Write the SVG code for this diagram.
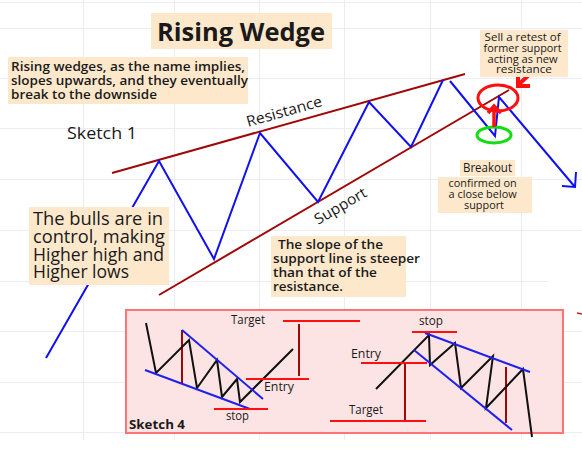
<svg xmlns="http://www.w3.org/2000/svg" width="582" height="457" viewBox="0 0 582 457">
<defs>
<style>
.grid{stroke:#ececf7;stroke-width:1;fill:none}
.box{fill:#fde8cc}
.t{font-family:"Open Sans","DejaVu Sans",sans-serif;fill:#1a1a1a}
.wave{stroke:#1010f0;stroke-width:2;fill:none;stroke-linejoin:miter}
.trend{stroke:#a00808;stroke-width:2;fill:none}
.blk{stroke:#111;stroke-width:2;fill:none}
.blue{stroke:#2020ee;stroke-width:2;fill:none}
.red{stroke:#ff1010;stroke-width:2;fill:none}
.dred{stroke:#a00808;stroke-width:2;fill:none}
</style>
</defs>
<rect width="582" height="457" fill="#ffffff"/>
<g id="grid" class="grid">
<path d="M0 2.5H582M0 28.5H582M0 78.5H582M0 128.5H582M0 179.5H582M0 230.5H582M0 281.5H548M0 331.5H582M0 382.5H582M0 432.5H582"/>
<path d="M83.5 0V440M174.5 0V440M259.5 0V440M344.5 0V440M430.5 0V440M521.5 0V440"/>
</g>

<g id="title">
<rect class="box" x="151" y="13" width="181" height="36"/>
<text class="t" x="157" y="41" font-size="25" font-weight="bold" textLength="168" lengthAdjust="spacingAndGlyphs">Rising Wedge</text>
</g>

<g id="intro">
<rect class="box" x="8" y="57" width="240" height="47"/>
<text class="t" font-size="12.5" font-weight="600">
<tspan x="11" y="71" textLength="234" lengthAdjust="spacingAndGlyphs">Rising wedges, as the name implies,</tspan>
<tspan x="11" y="85" textLength="237" lengthAdjust="spacingAndGlyphs">slopes upwards, and they eventually</tspan>
<tspan x="11" y="98.5" textLength="146" lengthAdjust="spacingAndGlyphs">break to the downside</tspan>
</text>
</g>

<g id="sketch1-label">
<text class="t" x="67" y="139" font-size="17" textLength="70" lengthAdjust="spacingAndGlyphs">Sketch 1</text>
</g>

<g id="connectors">
<line class="trend" x1="112" y1="173" x2="465" y2="74"/>
<line class="trend" x1="159" y1="295" x2="509" y2="90"/>
<polyline class="wave" points="46,358 159,161 214,259 260,133 318,202 369,102 411,147 443,80"/>
<polyline class="wave" points="450,81 495,136 499,97 575,187"/>
<polyline class="wave" points="576,172 575,187 562,186"/>
<ellipse cx="498" cy="98" rx="20" ry="13" fill="none" stroke="#ff1010" stroke-width="3"/>
<ellipse cx="494" cy="135" rx="17" ry="8" fill="none" stroke="#11dd11" stroke-width="3"/>
<line x1="494" y1="127" x2="494" y2="106" stroke="#ff1010" stroke-width="3.5"/>
<polyline points="488,113 494,106 501,113" fill="none" stroke="#ff1010" stroke-width="3.5"/>
<line x1="530" y1="74" x2="518" y2="85" stroke="#ff1010" stroke-width="4"/>
<polyline points="518,75 518,86 530,86" fill="none" stroke="#ff1010" stroke-width="4"/>
</g>

<g id="resistance-label">
<text class="t" font-size="15" transform="translate(248,127) rotate(-15.7)" textLength="78" lengthAdjust="spacingAndGlyphs">Resistance</text>
</g>
<g id="support-label">
<text class="t" font-size="15" transform="translate(318,225) rotate(-30.4)" textLength="58" lengthAdjust="spacingAndGlyphs">Support</text>
</g>

<g id="sell-note">
<rect class="box" x="480" y="30" width="88" height="47"/>
<text class="t" font-size="10.5" text-anchor="middle">
<tspan x="524" y="41" textLength="76" lengthAdjust="spacingAndGlyphs">Sell a retest of</tspan>
<tspan x="524" y="52" textLength="78" lengthAdjust="spacingAndGlyphs">former support</tspan>
<tspan x="524" y="63" textLength="70" lengthAdjust="spacingAndGlyphs">acting as new</tspan>
<tspan x="524" y="73" textLength="56" lengthAdjust="spacingAndGlyphs">resistance</tspan>
</text>
</g>

<g id="breakout">
<rect class="box" x="460" y="160" width="55" height="16"/>
<text class="t" x="487.5" y="172" font-size="12.5" text-anchor="middle" textLength="49" lengthAdjust="spacingAndGlyphs">Breakout</text>
</g>

<g id="confirmed">
<rect class="box" x="438" y="177" width="94" height="36"/>
<text class="t" font-size="10.5" text-anchor="middle">
<tspan x="484" y="187" textLength="68" lengthAdjust="spacingAndGlyphs">confirmed on</tspan>
<tspan x="484" y="198" textLength="68" lengthAdjust="spacingAndGlyphs">a close below</tspan>
<tspan x="484" y="209" textLength="40" lengthAdjust="spacingAndGlyphs">support</tspan>
</text>
</g>

<g id="bulls">
<rect class="box" x="29" y="207" width="140" height="78"/>
<text class="t" font-size="17.5">
<tspan x="33" y="225" textLength="130" lengthAdjust="spacingAndGlyphs">The bulls are in</tspan>
<tspan x="33" y="243" textLength="132" lengthAdjust="spacingAndGlyphs">control, making</tspan>
<tspan x="33" y="261" textLength="131" lengthAdjust="spacingAndGlyphs">Higher high and</tspan>
<tspan x="33" y="278" textLength="96" lengthAdjust="spacingAndGlyphs">Higher lows</tspan>
</text>
</g>

<g id="slope">
<rect class="box" x="271" y="236" width="135" height="61"/>
<text class="t" font-size="12.5" font-weight="600">
<tspan x="278" y="249" textLength="105" lengthAdjust="spacingAndGlyphs">The slope of the</tspan>
<tspan x="273" y="263" textLength="147" lengthAdjust="spacingAndGlyphs">support line is steeper</tspan>
<tspan x="273" y="277" textLength="104" lengthAdjust="spacingAndGlyphs">than that of the</tspan>
<tspan x="273" y="291" textLength="70" lengthAdjust="spacingAndGlyphs">resistance.</tspan>
</text>
</g>

<g id="sketch4">
<rect x="126" y="310" width="437" height="123" fill="#fde4e4" stroke="#ff7474" stroke-width="2"/>
<text class="t" x="129" y="429" font-size="13" font-weight="bold" textLength="56" lengthAdjust="spacingAndGlyphs">Sketch 4</text>
</g>

<g id="sketch4-left">
<line class="dred" x1="182" y1="330" x2="182" y2="383"/>
<polyline class="blk" points="146,323 156,373 189,340 197,388 217,360 222,397 237,379 240,402 293,349"/>
<line class="blue" x1="182" y1="330" x2="263" y2="399"/>
<line class="blue" x1="145" y1="370" x2="250" y2="409"/>
<line class="red" x1="283" y1="321" x2="360" y2="321"/>
<line class="dred" x1="299" y1="324" x2="299" y2="376"/>
<line class="red" x1="246" y1="379" x2="309" y2="379"/>
<line class="red" x1="214" y1="409" x2="268" y2="409"/>
<text class="t" x="231" y="324" font-size="12" textLength="34" lengthAdjust="spacingAndGlyphs">Target</text>
<text class="t" x="264" y="391" font-size="12" textLength="30" lengthAdjust="spacingAndGlyphs">Entry</text>
<text class="t" x="226" y="420" font-size="12" textLength="23" lengthAdjust="spacingAndGlyphs">stop</text>
</g>

<g id="sketch4-right">
<line class="dred" x1="405" y1="363" x2="405" y2="422"/>
<line class="dred" x1="506" y1="367" x2="506" y2="423"/>
<polyline class="blk" points="376,389 429,335 430,365 455,343 461,388 493,356 486,408 523,369 532,437"/>
<line class="blue" x1="425" y1="333" x2="530" y2="372"/>
<line class="blue" x1="414" y1="350" x2="512" y2="430"/>
<line class="red" x1="412" y1="332" x2="457" y2="332"/>
<line class="red" x1="361" y1="363" x2="427" y2="363"/>
<line class="red" x1="330" y1="421" x2="426" y2="421"/>
<text class="t" x="419" y="325" font-size="12" textLength="24" lengthAdjust="spacingAndGlyphs">stop</text>
<text class="t" x="351" y="358" font-size="12" textLength="30" lengthAdjust="spacingAndGlyphs">Entry</text>
<text class="t" x="349" y="414" font-size="12" textLength="34" lengthAdjust="spacingAndGlyphs">Target</text>
</g>

<g id="marks">
<line x1="577" y1="313" x2="582" y2="314" stroke="#cc2222" stroke-width="1.5"/>
</g>
</svg>
